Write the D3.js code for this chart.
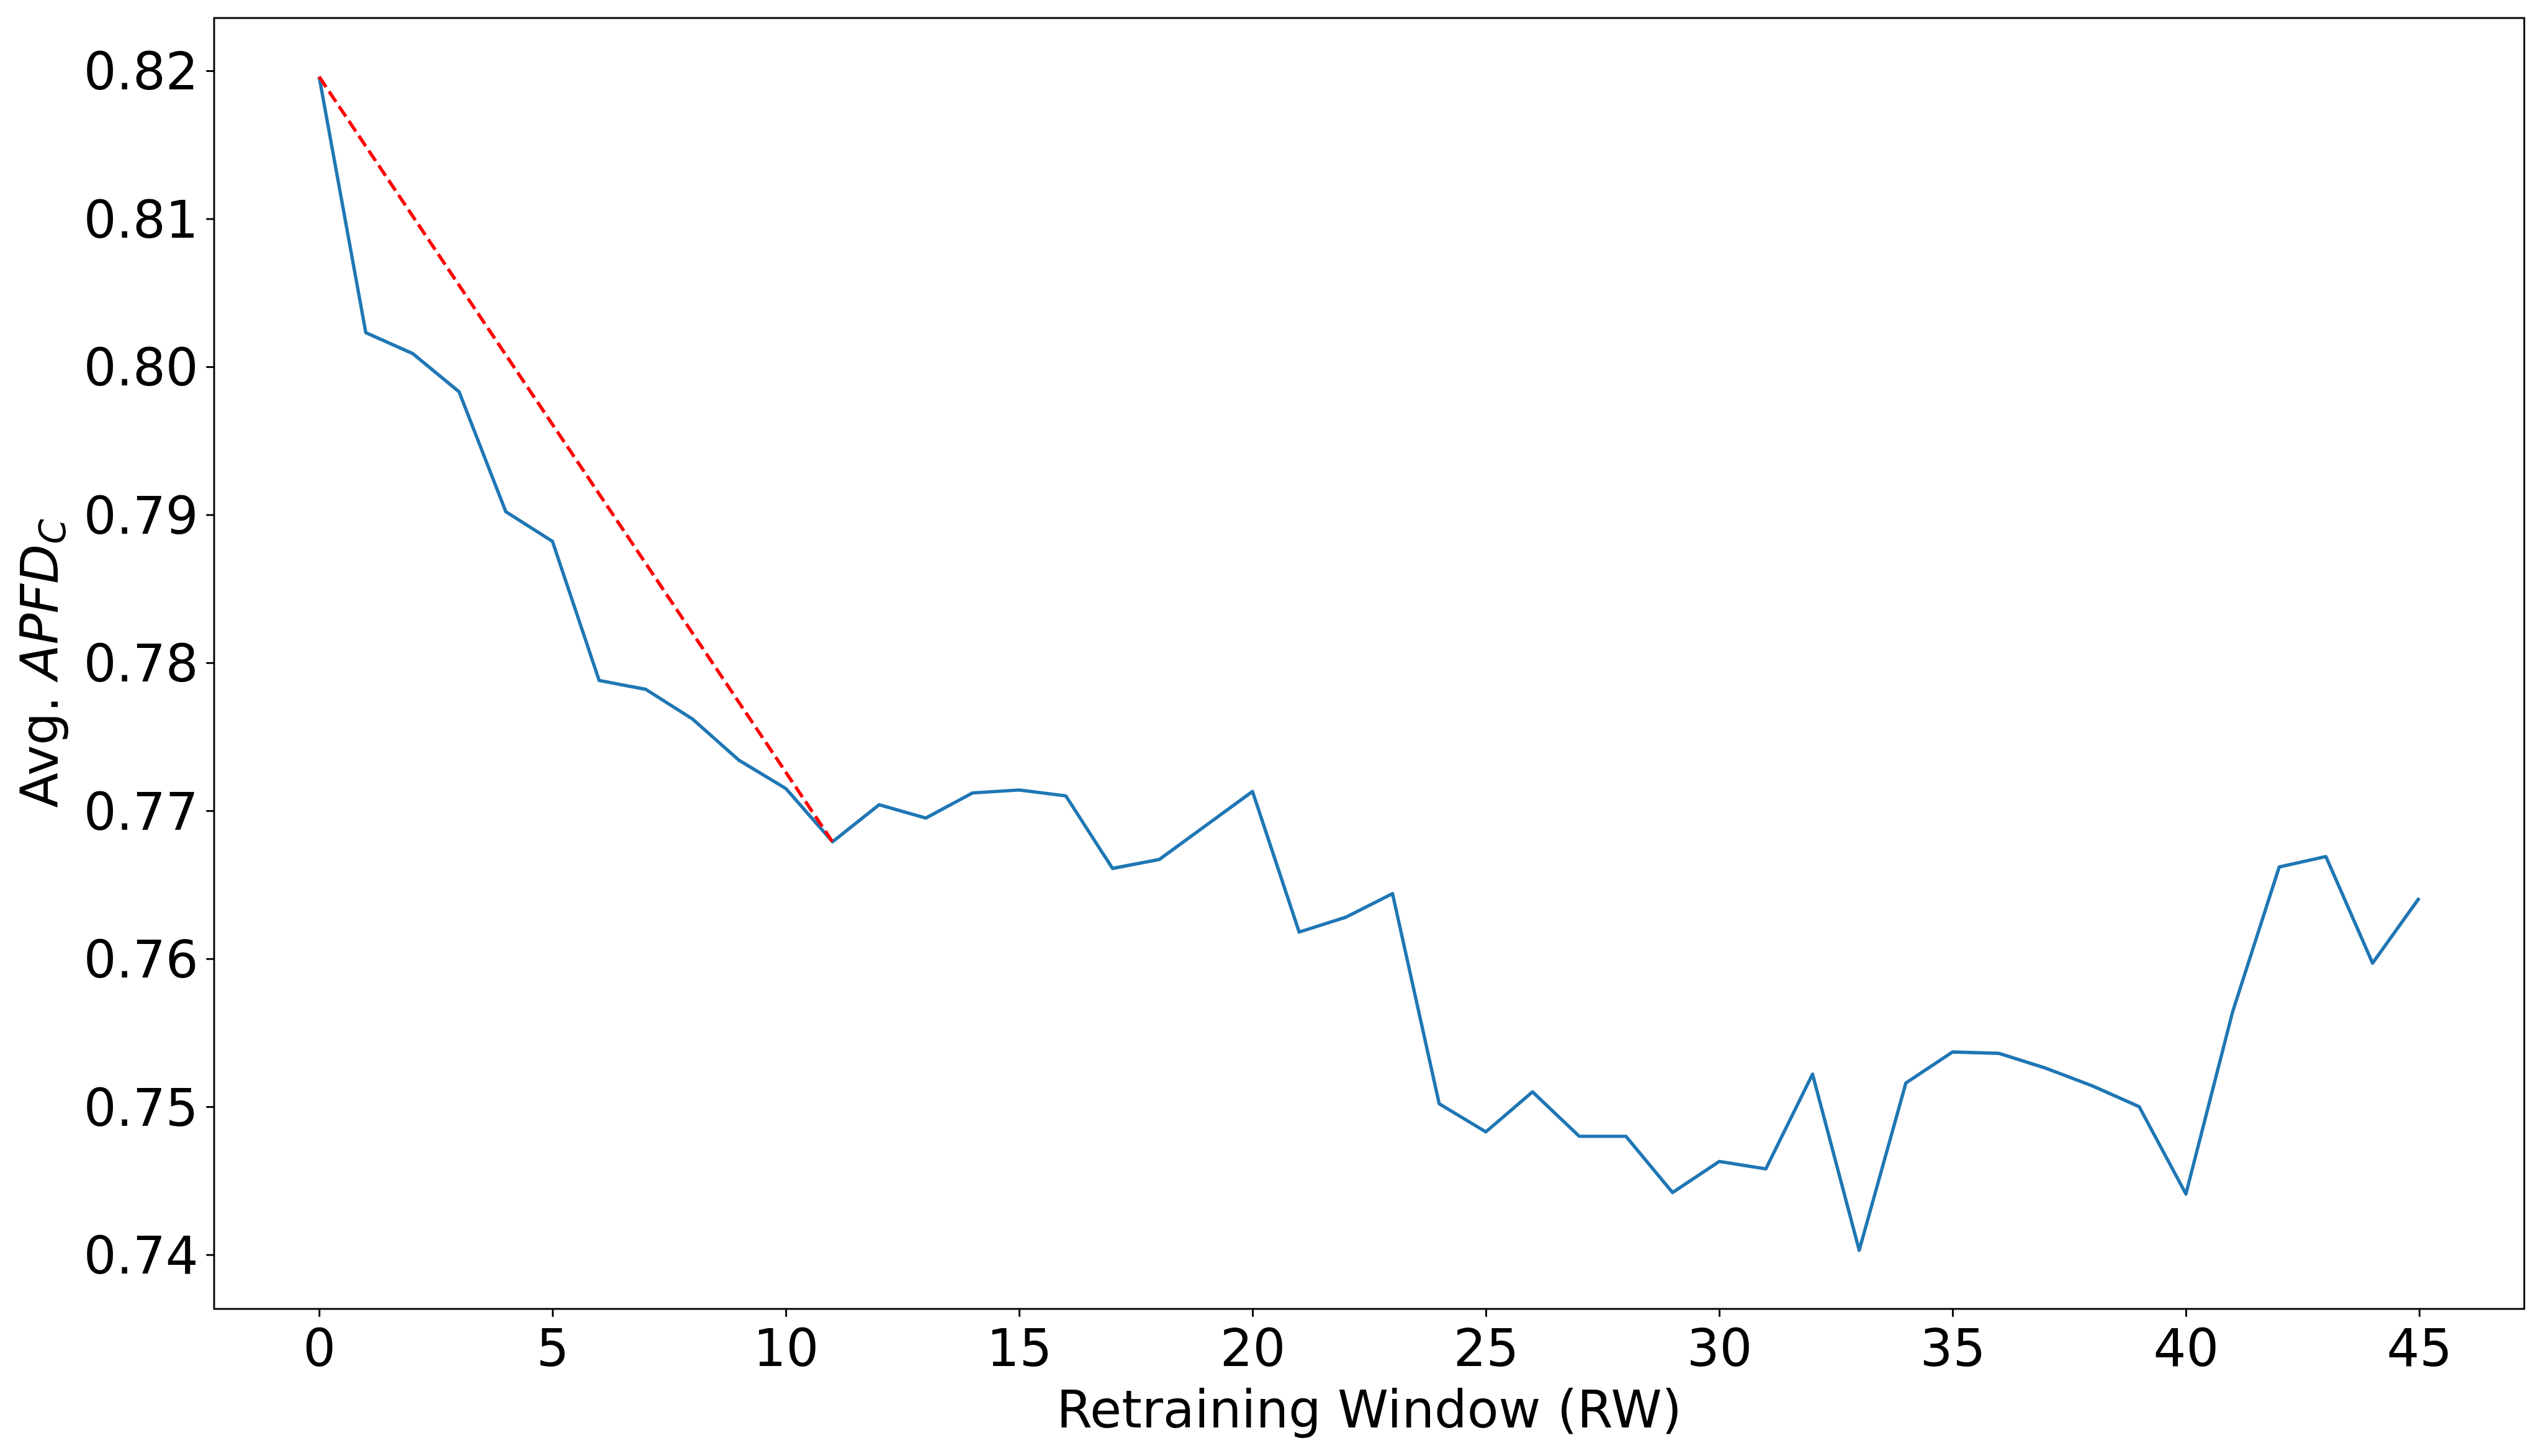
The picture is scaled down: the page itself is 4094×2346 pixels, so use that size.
<!DOCTYPE html>
<html>
<head>
<meta charset="utf-8">
<script src="https://cdn.jsdelivr.net/npm/d3@7"></script>
<style>
  body { margin: 0; background: #fff; }
  text { font-family: "DejaVu Sans", sans-serif; }
</style>
</head>
<body>
<svg id="chart" width="4094" height="2346"></svg>
<script>
// retraining window index and average APFD_C
const rw = [0, 1, 2, 3, 4, 5, 6, 7, 8, 9, 10, 11, 12, 13, 14, 15, 16, 17, 18, 19, 20, 21, 22,
  23, 24, 25, 26, 27, 28, 29, 30, 31, 32, 33, 34, 35, 36, 37, 38, 39, 40, 41, 42, 43, 44, 45]
const apfd = [0.8196, 0.8023, 0.8009, 0.7983, 0.7902, 0.7882, 0.7788, 0.7782, 0.7762, 0.7734,
  0.7715, 0.7679, 0.7704, 0.7695, 0.7712, 0.7714, 0.7710, 0.7661, 0.7667, 0.7690, 0.7713,
  0.7618, 0.7628, 0.7644, 0.7502, 0.7483, 0.7510, 0.7480, 0.7480, 0.7442, 0.7463, 0.7458,
  0.7522, 0.7403, 0.7516, 0.7537, 0.7536, 0.7526, 0.7514, 0.7500, 0.7441, 0.7564, 0.7662,
  0.7669, 0.7597, 0.7641]

// red dashed reference line between first and 11th window
const trendX = [0, 11]
const trendY = [0.8196, 0.7679]

const xTicks = [0, 5, 10, 15, 20, 25, 30, 35, 40, 45]
const yTicks = [0.74, 0.75, 0.76, 0.77, 0.78, 0.79, 0.80, 0.81, 0.82]

let margin = { top: 29, right: 27, bottom: 237, left: 345 }
let width = 4094
let height = 2346
let fontSize = 83
let svg = d3.select("#chart")

let series = rw.map((d, i) => ({ x: d, y: apfd[i] }))
let trend = trendX.map((d, i) => ({ x: d, y: trendY[i] }))

// matplotlib style 5% margins
let xExt = d3.extent(rw)
let xPad = (xExt[1] - xExt[0]) * 0.05
let yExt = d3.extent(apfd.concat(trendY))
let yPad = (yExt[1] - yExt[0]) * 0.05

let x = d3.scaleLinear()
    .domain([xExt[0] - xPad, xExt[1] + xPad])
    .range([margin.left, width - margin.right])

let y = d3.scaleLinear()
    .domain([yExt[0] - yPad, yExt[1] + yPad])
    .range([height - margin.bottom, margin.top])

let xAxisSettings = d3.axisBottom(x)
    .tickValues(xTicks)
    .tickSize(12.7)
    .tickPadding(20)
    .tickFormat(d3.format("d"))

let yAxisSettings = d3.axisLeft(y)
    .tickValues(yTicks)
    .tickSize(12.7)
    .tickPadding(12.7)
    .tickFormat(d3.format(".2f"))

let xAxisTicks = svg.append("g")
    .attr("class", "x axis")
    .attr("transform", `translate(0,${height - margin.bottom})`)
    .call(xAxisSettings)

let yAxisTicks = svg.append("g")
    .attr("class", "y axis")
    .attr("transform", `translate(${margin.left},0)`)
    .call(yAxisSettings)

svg.selectAll(".axis .domain").remove()
svg.selectAll(".axis line")
    .style("stroke", "#000")
    .style("stroke-width", "2.9px")
svg.selectAll(".axis text")
    .style("font-size", fontSize + "px")
    .style("fill", "#000")
yAxisTicks.selectAll("text").attr("dy", "0.36em")

let line = d3.line()
    .x(d => x(d.x))
    .y(d => y(d.y))

svg.append("path")
    .datum(series)
    .attr("d", line)
    .style("fill", "none")
    .style("stroke", "#1f77b4")
    .style("stroke-width", "5.4px")
    .style("stroke-linejoin", "round")

svg.append("path")
    .datum(trend)
    .attr("d", line)
    .style("fill", "none")
    .style("stroke", "red")
    .style("stroke-width", "5.4px")
    .style("stroke-dasharray", "20,8.7")

// frame
svg.append("rect")
    .attr("x", margin.left)
    .attr("y", margin.top)
    .attr("width", width - margin.left - margin.right)
    .attr("height", height - margin.top - margin.bottom)
    .style("fill", "none")
    .style("stroke", "#000")
    .style("stroke-width", "2.9px")

let xLabel = svg.append("text")
    .attr("text-anchor", "middle")
    .attr("x", (margin.left + width - margin.right) / 2)
    .attr("y", 2300)
    .style("font-size", fontSize + "px")
    .text("Retraining Window (RW)")

let yLabel = svg.append("text")
    .attr("text-anchor", "middle")
    .attr("transform", `translate(93,${(margin.top + height - margin.bottom) / 2}) rotate(-90)`)
    .style("font-size", fontSize + "px")

yLabel.append("tspan").text("Avg. ")
yLabel.append("tspan").style("font-style", "italic").text("APFD")
yLabel.append("tspan")
    .style("font-style", "italic")
    .style("font-size", (fontSize * 0.7) + "px")
    .attr("dy", "0.2em")
    .text("C")
</script>
</body>
</html>
